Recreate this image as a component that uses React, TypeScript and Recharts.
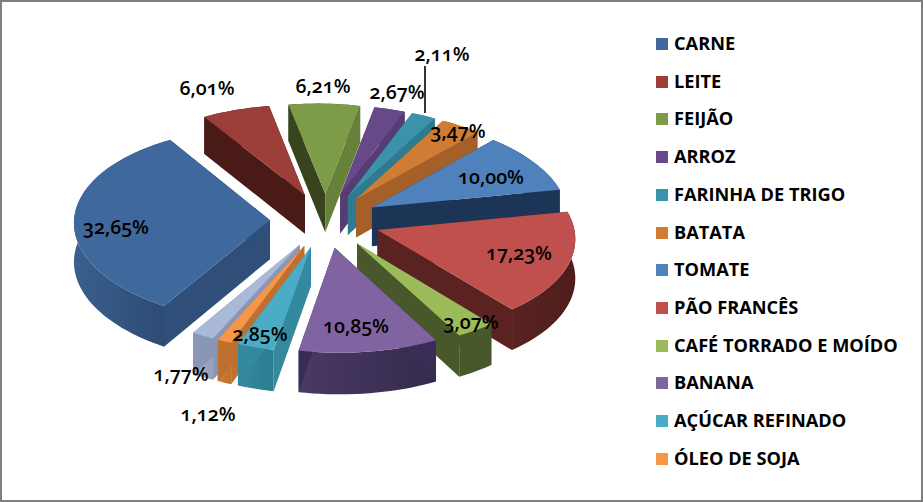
import React from "react";
import { PieChart, Pie, Legend } from "recharts";

const CATEGORIES = ["CARNE", "LEITE", "FEIJÃO", "ARROZ", "FARINHA DE TRIGO", "BATATA", "TOMATE", "PÃO FRANCÊS", "CAFÉ TORRADO E MOÍDO", "BANANA", "AÇÚCAR REFINADO", "ÓLEO DE SOJA", "OUTROS"];
const VALUES = [32.65, 6.01, 6.21, 2.67, 2.11, 3.47, 10.0, 17.23, 3.07, 10.85, 2.85, 1.12, 1.77];
const LABELS = ["32,65%", "6,01%", "6,21%", "2,67%", "2,11%", "3,47%", "10,00%", "17,23%", "3,07%", "10,85%", "2,85%", "1,12%", "1,77%"];
const LEGEND_COUNT = 12;

const TOP = ["#3F689C", "#9C3D3A", "#7E9B47", "#67498A", "#3A92AB", "#CF7D35", "#4F81BD", "#C0504D", "#9BBB59", "#8064A2", "#4BACC6", "#F79646", "#AAB9D8"];
const SWATCH = ["#3F689C", "#9C3D3A", "#7E9B47", "#67498A", "#3A92AB", "#CF7D35", "#4F81BD", "#C0504D", "#9BBB59", "#8064A2", "#4BACC6", "#F79646", "#AAB9D8"];
const ARC_A = ["#3A5F8E", "#4A1A17", "#38441E", "#3F2C55", "#2F7A8F", "#A5602A", "#1C3557", "#5A2220", "#48582A", "#4A3A66", "#35899F", "#CC7A32", "#9FA8BE"];
const ARC_B = ["#2C4A72", "#4A1A17", "#38441E", "#3F2C55", "#2F7A8F", "#A5602A", "#1C3557", "#4E1E1C", "#48582A", "#342A4C", "#2D7C90", "#C27230", "#98A2B8"];
const SIDE_START = ["#2F4E78", "#4A1A17", "#38441E", "#3F2C55", "#2F7A8F", "#A5602A", "#1C3557", "#5A2220", "#48582A", "#3A2D55", "#35899F", "#BF7030", "#8A96B8"];
const SIDE_END = ["#2F4E78", "#4A1A17", "#67803A", "#553C74", "#2F7A8F", "#A5602A", "#1C3557", "#5A2220", "#48582A", "#3A2D55", "#35899F", "#BF7030", "#8A96B8"];

const chartData = VALUES.map((value, i) => ({ name: CATEGORIES[i], value }));

// layout constants
const W = 923, H = 502;
const CX = 325, CY = 220.5, R = 196;
const EXPLODE = 55, RATIO = 0.495, DEPTH = 4000, WALL = 39, SHEAR = 0.034, BEND = -0.00004;
const LABEL_POS = [[116, 226], [207, 87], [323, 85], [397, 91], [442, 53], [458, 130], [491, 176], [519, 252], [471, 321], [356, 325], [260, 333], [208, 413], [181, 373]];
const LAYERS = [[0, 1, 2, 3, 4, 5, 6, 7, 8, 9, 12], [11], [10]];
const LEGEND_X = 656, LEGEND_Y = 38, LEGEND_STEP = 37.7;
const LABEL_FONT = "'Open Sans', sans-serif";

const rad = Math.PI / 180;

function project(mid: number, a: number, r: number, down: number) {
  const X = EXPLODE * Math.cos(mid * rad) + r * Math.cos(a * rad);
  const Y = -(EXPLODE * Math.sin(mid * rad) + r * Math.sin(a * rad));
  const k = 1 / (1 - Y / DEPTH);
  return [CX + (X + SHEAR * Y + BEND * Y * Y) * k, CY + Y * RATIO * k + down * k];
}
const path = (pts: number[][]) => "M" + pts.map((p) => p[0].toFixed(2) + "," + p[1].toFixed(2)).join("L") + "Z";

function Slice(p: any, layer: number[]) {
  const i: number = p.index;
  if (!layer.includes(i)) return <g />;
  const { startAngle: s, endAngle: e } = p;
  const mid = (s + e) / 2;
  const n = Math.max(4, Math.ceil(Math.abs(s - e) / 2));
  const arc: number[][] = [];
  const arcLow: number[][] = [];
  for (let j = 0; j <= n; j++) {
    const a = s + ((e - s) * j) / n;
    arc.push(project(mid, a, R, 0));
    arcLow.push(project(mid, a, R, WALL));
  }
  const apex = project(mid, 0, 0, 0);
  const apexLow = project(mid, 0, 0, WALL);
  const gid = "arcg" + i;
  const xs = arc.map((q) => q[0]);
  return (
    <g>
      <defs>
        <linearGradient id={gid} gradientUnits="userSpaceOnUse" x1={Math.min(...xs)} x2={Math.max(...xs)} y1={0} y2={0}>
          <stop offset="0" stopColor={ARC_A[i]} />
          <stop offset="1" stopColor={ARC_B[i]} />
        </linearGradient>
      </defs>
      <path d={path([...arc, ...arcLow.slice().reverse()])} fill={`url(#${gid})`} />
      <path d={path([apex, arc[0], arcLow[0], apexLow])} fill={SIDE_START[i]} />
      <path d={path([apex, arc[n], arcLow[n], apexLow])} fill={SIDE_END[i]} />
      <path d={path([apex, ...arc])} fill={TOP[i]} />
    </g>
  );
}

function DataLabel(p: any) {
  const i: number = p.index;
  const [x, y] = LABEL_POS[i];
  return (
    <g>
      {i === 4 && <line x1={425} y1={66} x2={425} y2={113} stroke="#000" strokeWidth={1.6} />}
      <text x={x} y={y} textAnchor="middle" dominantBaseline="central" fontFamily={LABEL_FONT} fontSize={19.5} fontWeight={600} fill="#000" style={{ fontVariantNumeric: "oldstyle-nums" }}>
        {LABELS[i]}
      </text>
    </g>
  );
}

function LegendList() {
  return (
    <div style={{ position: "absolute", left: 0, top: 0 }}>
      {CATEGORIES.slice(0, LEGEND_COUNT).map((c, i) => (
        <div key={c}>
          <div style={{ position: "absolute", left: LEGEND_X, top: LEGEND_Y + i * LEGEND_STEP, width: 12, height: 12, background: SWATCH[i] }} />
          <div style={{ position: "absolute", left: LEGEND_X + 18, top: LEGEND_Y + i * LEGEND_STEP - 7, lineHeight: "24px", fontFamily: "'Open Sans', sans-serif", fontWeight: 700, fontSize: 18.2, color: "#000", whiteSpace: "nowrap" }}>{c}</div>
        </div>
      ))}
    </div>
  );
}

export default function App() {
  return (
    <div style={{ position: "absolute", left: 0, top: 0, width: W, height: H, background: "#fff", overflow: "hidden" }}>
      <PieChart width={W} height={H} margin={{ top: 0, right: 0, bottom: 0, left: 0 }}>
        {LAYERS.map((layer, li) => (
          <Pie key={li} data={chartData} dataKey="value" nameKey="name" cx={CX} cy={CY} outerRadius={R} innerRadius={0} startAngle={238} endAngle={-122} stroke="none" isAnimationActive={false} shape={(p: any) => Slice(p, layer)} />
        ))}
        <Pie data={chartData} dataKey="value" nameKey="name" cx={CX} cy={CY} outerRadius={R} startAngle={238} endAngle={-122} stroke="none" isAnimationActive={false} shape={() => <g />} labelLine={false} label={DataLabel} />
        <Legend content={() => <LegendList />} wrapperStyle={{ position: "absolute", left: 0, top: 0, width: W, height: H, pointerEvents: "none" }} />
      </PieChart>
      <div style={{ position: "absolute", left: 0, top: 0, width: W, height: H, boxSizing: "border-box", border: "2px solid #7F7F7F", pointerEvents: "none" }} />
    </div>
  );
}
